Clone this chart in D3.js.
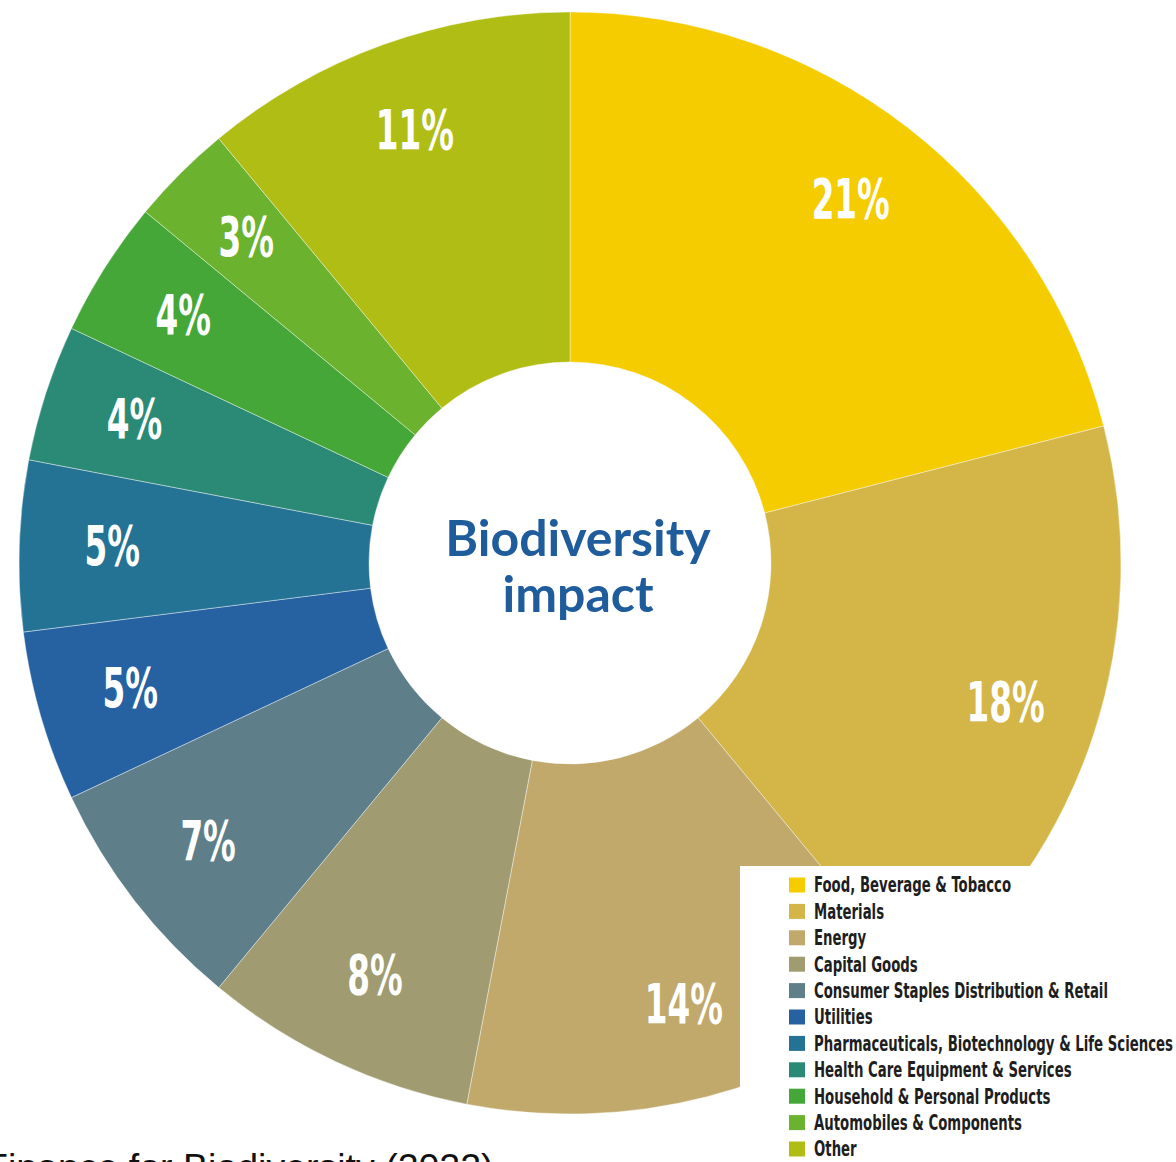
<!DOCTYPE html>
<html>
<head>
<meta charset="utf-8">
<script src="https://cdn.jsdelivr.net/npm/d3@7"></script>
<style>
  html, body { margin: 0; padding: 0; background: #fff; overflow: hidden; }
  svg { display: block; }
</style>
</head>
<body>
<svg id="chart" width="1176" height="1162"></svg>
<script>
// Sector shares of biodiversity impact (percent), clockwise from 12 o'clock
const sectors = [
  "Food, Beverage & Tobacco",
  "Materials",
  "Energy",
  "Capital Goods",
  "Consumer Staples Distribution & Retail",
  "Utilities",
  "Pharmaceuticals, Biotechnology & Life Sciences",
  "Health Care Equipment & Services",
  "Household & Personal Products",
  "Automobiles & Components",
  "Other"
];
const shares = [21, 18, 14, 8, 7, 5, 5, 4, 4, 3, 11];
const colors = [
  "#f5cc00", "#d4b547", "#c0a96a", "#a09b71", "#5e7f89",
  "#2662a2", "#247394", "#2a8a75", "#44a737", "#6bb22e", "#b0bd15"
];
const centerTitle = ["Biodiversity", "impact"];
const sourceNote = "Finance for Biodiversity (2022)";

const svg = d3.select("#chart");
const cx = 570, cy = 563;
const outerR = 551, innerR = 201, labelR = 458;
const condensed = "'Liberation Sans Narrow', 'DejaVu Sans Condensed', 'Arial Narrow', sans-serif";

const data = sectors.map((s, i) => ({ sector: s, value: shares[i], color: colors[i] }));

const pie = d3.pie().value(d => d.value).sort(null);
const arc = d3.arc().innerRadius(innerR).outerRadius(outerR);
const labelArc = d3.arc().innerRadius(labelR).outerRadius(labelR);

const g = svg.append("g").attr("transform", `translate(${cx},${cy})`);
const arcs = pie(data);

g.selectAll("path.slice")
  .data(arcs)
  .join("path")
  .attr("class", "slice")
  .attr("d", arc)
  .attr("fill", d => d.data.color)
  .attr("stroke", "#ffffff")
  .attr("stroke-opacity", 0.4)
  .attr("stroke-width", 1);

// Percentage labels in a tall, narrow bold face
const lbl = g.selectAll("g.lbl")
  .data(arcs)
  .join("g")
  .attr("class", "lbl")
  .attr("transform", d => { const [x, y] = labelArc.centroid(d); return `translate(${x},${y})`; });

lbl.append("text")
  .attr("transform", "scale(0.66,1)")
  .attr("text-anchor", "middle")
  .attr("dy", "0.3em")
  .attr("fill", "#ffffff")
  .style("font-family", condensed)
  .style("font-weight", "bold")
  .style("font-size", "55px")
  .text(d => d.data.value + "%");

// Centre title
const title = svg.append("text")
  .attr("x", 578)
  .attr("text-anchor", "middle")
  .attr("fill", "#1f5c9c")
  .style("font-family", "Lato, 'Open Sans', sans-serif")
  .style("font-weight", "bold")
  .style("font-size", "50px");
title.append("tspan").attr("x", 578).attr("y", 556).text(centerTitle[0]);
title.append("tspan").attr("x", 578).attr("y", 612).text(centerTitle[1]);

// Legend panel
const legend = svg.append("g");
legend.append("rect")
  .attr("x", 740).attr("y", 866)
  .attr("width", 436).attr("height", 296)
  .attr("fill", "#ffffff");

const rowY = d3.scaleLinear().domain([0, sectors.length - 1]).range([885, 1149]);

const rows = legend.selectAll("g.row")
  .data(data)
  .join("g")
  .attr("class", "row")
  .attr("transform", (d, i) => `translate(0,${rowY(i)})`);

rows.append("rect")
  .attr("x", 789).attr("y", -7.5)
  .attr("width", 16).attr("height", 15)
  .attr("fill", d => d.color);

rows.append("text")
  .attr("transform", "translate(814,0) scale(0.72,1)")
  .attr("dy", "0.36em")
  .attr("fill", "#1e1e1e")
  .style("font-family", condensed)
  .style("font-weight", "bold")
  .style("font-size", "20.5px")
  .text(d => d.sector);

// Source line, running off the bottom edge
svg.append("text")
  .attr("x", -15)
  .attr("y", 1180)
  .attr("fill", "#111")
  .style("font-family", "'Liberation Sans', Arial, sans-serif")
  .style("font-size", "37.5px")
  .text(sourceNote);
</script>
</body>
</html>
